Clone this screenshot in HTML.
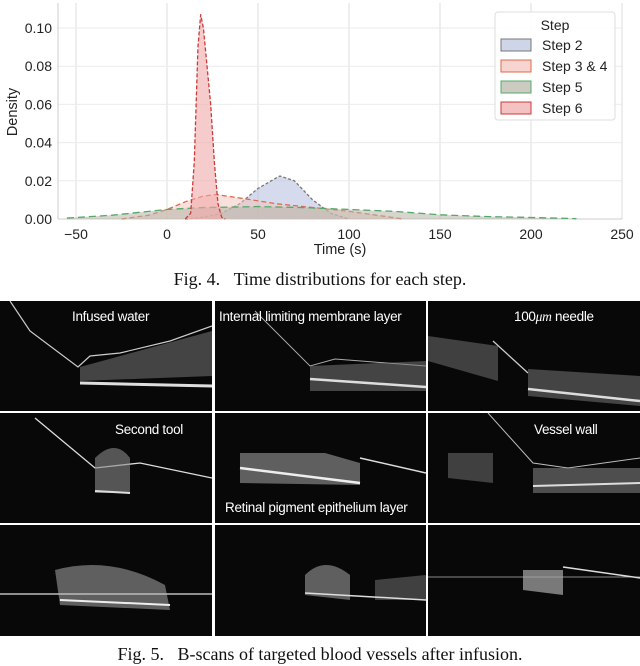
<!DOCTYPE html>
<html><head><meta charset="utf-8"><style>
body{margin:0;background:#fff;width:640px;height:666px;overflow:hidden;position:relative;font-family:"Liberation Sans",sans-serif}
.cap{position:absolute;left:0;width:640px;text-align:center;font-family:"Liberation Serif",serif;font-size:18px;color:#111}
.panel{position:absolute;background:#080808;overflow:hidden}
.lbl{position:absolute;color:#fff;font-size:13.5px;white-space:nowrap;letter-spacing:-0.3px}
</style></head><body>
<svg id="chart" width="640" height="270" style="position:absolute;left:0;top:0"></svg>
<div class="cap" style="top:269px">Fig. 4.&nbsp;&nbsp;&nbsp;Time distributions for each step.</div>

<div class="panel" style="left:0;top:301px;width:212px;height:110px">
<svg width="212" height="110"><path d="M10 0 L30 30 L78 66 L90 55 L120 52 L170 40 L212 25" stroke="#ccc" fill="none" stroke-width="1.2"/><path d="M80 66 L212 30 L212 75 L80 80Z" fill="#777" opacity=".55"/><path d="M80 82 L212 85" stroke="#ddd" stroke-width="3"/></svg>
<div class="lbl" style="left:72px;top:8px">Infused water</div></div>
<div class="panel" style="left:215px;top:301px;width:211px;height:110px">
<svg width="211" height="110"><path d="M40 10 L95 65 L120 58 L211 65" stroke="#aaa" fill="none"/><path d="M95 65 L211 60 L211 90 L95 90Z" fill="#777" opacity=".55"/><path d="M95 78 L211 86" stroke="#ddd" stroke-width="2.5"/></svg>
<div class="lbl" style="left:4px;top:8px">Internal limiting membrane layer</div></div>
<div class="panel" style="left:428px;top:301px;width:212px;height:110px">
<svg width="212" height="110"><path d="M0 35 L70 45 L70 80 L0 60Z" fill="#777" opacity=".5"/><path d="M65 40 L100 72" stroke="#ccc" stroke-width="1.3"/><path d="M100 68 L212 75 L212 105 L100 95Z" fill="#777" opacity=".55"/><path d="M100 88 L212 100" stroke="#ddd" stroke-width="2.5"/></svg>
<div class="lbl" style="left:86px;top:8px">100<i style="font-family:'Liberation Serif',serif">μm</i> needle</div></div>

<div class="panel" style="left:0;top:413px;width:212px;height:110px">
<svg width="212" height="110"><path d="M35 5 L95 55 L140 50 L212 65" stroke="#ddd" fill="none" stroke-width="1.3"/><path d="M95 45 Q115 25 130 45 L130 80 L95 80Z" fill="#888" opacity=".6"/><path d="M95 78 L130 80" stroke="#ddd" stroke-width="2"/></svg>
<div class="lbl" style="left:115px;top:9px">Second tool</div></div>
<div class="panel" style="left:215px;top:413px;width:211px;height:110px">
<svg width="211" height="110"><path d="M25 40 L110 40 L145 50 L145 72 L25 70Z" fill="#999" opacity=".6"/><path d="M25 55 L145 70" stroke="#eee" stroke-width="2.5"/><path d="M145 45 L211 60" stroke="#ddd" stroke-width="1.5"/></svg>
<div class="lbl" style="left:10px;top:87px">Retinal pigment epithelium layer</div></div>
<div class="panel" style="left:428px;top:413px;width:212px;height:110px">
<svg width="212" height="110"><path d="M20 40 L65 40 L65 70 L20 65Z" fill="#777" opacity=".5"/><path d="M60 0 L105 50 L140 55 L212 45" stroke="#bbb" fill="none"/><path d="M105 55 L212 55 L212 80 L105 80Z" fill="#888" opacity=".55"/><path d="M105 73 L212 70" stroke="#ddd" stroke-width="2"/></svg>
<div class="lbl" style="left:106px;top:9px">Vessel wall</div></div>

<div class="panel" style="left:0;top:525px;width:212px;height:111px">
<svg width="212" height="111"><path d="M55 45 Q110 30 165 60 L170 85 L60 80Z" fill="#999" opacity=".6"/><path d="M0 69 L212 69" stroke="#bbb" stroke-width="1.5"/><path d="M60 75 L170 80" stroke="#eee" stroke-width="2"/></svg></div>
<div class="panel" style="left:215px;top:525px;width:211px;height:111px">
<svg width="211" height="111"><path d="M90 50 Q110 30 135 50 L135 75 L90 70Z" fill="#999" opacity=".6"/><path d="M160 55 L211 50 L211 75 L160 75Z" fill="#777" opacity=".5"/><path d="M90 68 L211 75" stroke="#ddd" stroke-width="1.5"/></svg></div>
<div class="panel" style="left:428px;top:525px;width:212px;height:111px">
<svg width="212" height="111"><path d="M0 52 L212 52" stroke="#888"/><path d="M95 45 L135 45 L135 70 L95 65Z" fill="#aaa" opacity=".7"/><path d="M135 42 L212 53" stroke="#ddd" stroke-width="1.5"/></svg></div>
<div class="cap" style="top:644px">Fig. 5.&nbsp;&nbsp;&nbsp;B-scans of targeted blood vessels after infusion.</div>

<script>
const xTicks=[-50,0,50,100,150,200,250];
const yTicks=[0,0.02,0.04,0.06,0.08,0.10];
const yTickLabels=["0.00","0.02","0.04","0.06","0.08","0.10"];
const seriesNames=["Step 2","Step 3 & 4","Step 5","Step 6"];
const step2X=[10,20,30,40,50,60,62,70,80,90,100];
const step2Y=[0,0.001,0.003,0.008,0.016,0.0215,0.0225,0.02,0.01,0.003,0];
const step34X=[-25,-10,0,10,20,27,40,60,80,100,115,130];
const step34Y=[0,0.002,0.005,0.009,0.012,0.0128,0.011,0.008,0.006,0.004,0.002,0];
const step5X=[-55,-30,-10,0,20,50,75,100,125,150,175,200,225];
const step5Y=[0.0005,0.002,0.004,0.005,0.006,0.0065,0.006,0.005,0.004,0.0022,0.0013,0.0008,0.0002];
const step6X=[10,13,15,17,18.5,20,22,24,26,28,30,32];
const step6Y=[0,0.003,0.03,0.09,0.107,0.1,0.08,0.06,0.03,0.008,0.001,0];
const NS="http://www.w3.org/2000/svg";
const svg=document.getElementById('chart');
const L=58,R=622,T=3,B=219;
const xs=v=>76+(v+50)*(546/300);
const ys=v=>B-v*1910;
function mk(t,a,p){const e=document.createElementNS(NS,t);for(const k in a)e.setAttribute(k,a[k]);(p||svg).appendChild(e);return e;}
xTicks.forEach(v=>{const g=mk('line',{x1:xs(v),x2:xs(v),y1:T,y2:B,stroke:'#ddd','stroke-width':1});


const t=mk('text',{x:xs(v),y:B+20,'text-anchor':'middle','font-size':14,fill:'#222'});t.textContent=(v<0?'\u2212'+(-v):v);

});
yTicks.forEach((v,i)=>{const g=mk('line',{x1:L,x2:R,y1:ys(v),y2:ys(v),stroke:'#ebebeb','stroke-width':1});


const t=mk('text',{x:L-6,y:ys(v)+5,'text-anchor':'end','font-size':14,fill:'#222'});t.textContent=yTickLabels[i];

});
const ax=mk('line',{x1:L,x2:R,y1:B,y2:B,stroke:'#ccc'});


const ax2=mk('line',{x1:L,x2:L,y1:T,y2:B,stroke:'#ccc'});


const xt=mk('text',{x:340,y:254,'text-anchor':'middle','font-size':14.5,fill:'#222'});xt.textContent='Time (s)';


const yt=mk('text',{x:17,y:112,'text-anchor':'middle','font-size':14.5,fill:'#222',transform:'rotate(-90 17 112)'});yt.textContent='Density';


const styles=[{fill:'#b9c3e0',op:0.6,line:'#777',dash:'3,2'},{fill:'#f4c2bc',op:0.5,line:'#e0694a',dash:'5,3'},{fill:'#b5b5a8',op:0.55,line:'#55a868',dash:'7,4'},{fill:'#f0a8a8',op:0.6,line:'#cc3b3b',dash:'4,2'}];
const data=[[step2X,step2Y],[step34X,step34Y],[step5X,step5Y],[step6X,step6Y]];
const names=['step-2-density','step-3-4-density','step-5-density','step-6-density'];
data.forEach((d,i)=>{const [X,Y]=d;let p='M'+xs(X[0])+' '+ys(0);let l='';
for(let j=0;j<X.length;j++){p+=' L'+xs(X[j])+' '+ys(Y[j]);l+=(j?' L':'M')+xs(X[j])+' '+ys(Y[j]);}
p+=' L'+xs(X[X.length-1])+' '+ys(0)+'Z';
const a=mk('path',{d:p,fill:styles[i].fill,'fill-opacity':styles[i].op,stroke:'none'});


const ln=mk('path',{d:l,fill:'none',stroke:styles[i].line,'stroke-width':1.3,'stroke-dasharray':styles[i].dash,'stroke-linejoin':'round'});

});
const lg=mk('g',{});


mk('rect',{x:495,y:12,width:120,height:108,fill:'#fff','fill-opacity':0.9,stroke:'#ddd',rx:3},lg);
const lt=mk('text',{x:555,y:30,'text-anchor':'middle','font-size':14,fill:'#222'},lg);lt.textContent='Step';
seriesNames.forEach((n,i)=>{const y=45+i*21;
const sw=mk('rect',{x:501,y:y-6,width:30,height:12,fill:styles[i].fill,'fill-opacity':0.7,stroke:styles[i].line,'stroke-width':1},lg);


const t=mk('text',{x:542,y:y+5,'font-size':14,fill:'#222'},lg);t.textContent=n;

});
</script>
</body></html>
